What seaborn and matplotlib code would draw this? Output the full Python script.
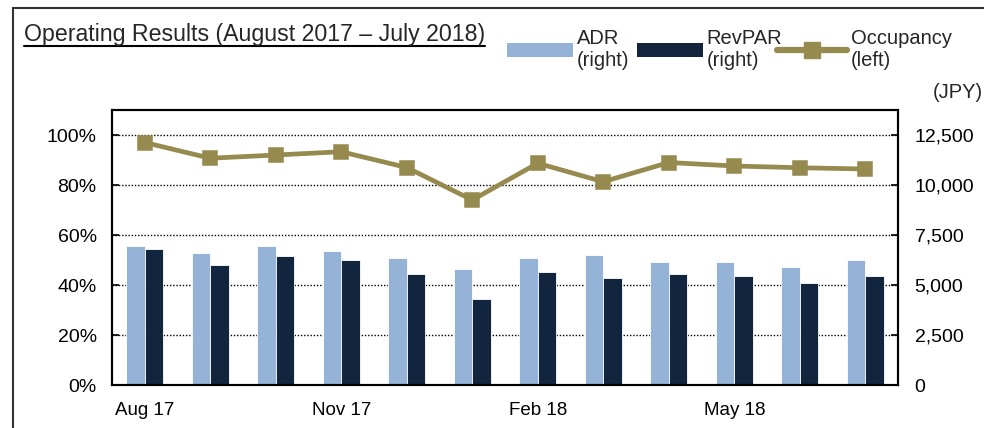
import matplotlib
matplotlib.use('Agg')
import numpy as np
import pandas as pd
import matplotlib.pyplot as plt
from matplotlib.patches import Rectangle, Patch
from matplotlib.lines import Line2D
from matplotlib.ticker import FuncFormatter
import seaborn as sns

# data
months = ['Aug 17', 'Sep 17', 'Oct 17', 'Nov 17', 'Dec 17', 'Jan 18',
          'Feb 18', 'Mar 18', 'Apr 18', 'May 18', 'Jun 18', 'Jul 18']
tick_labels = ['Aug 17', '', '', 'Nov 17', '', '', 'Feb 18', '', '', 'May 18', '', '']
adr = [6950, 6580, 6950, 6680, 6330, 5800, 6330, 6500, 6150, 6150, 5900, 6230]
revpar = [6780, 5980, 6430, 6230, 5530, 4300, 5630, 5350, 5530, 5450, 5080, 5450]
occupancy = [0.970, 0.907, 0.920, 0.933, 0.870, 0.740, 0.887, 0.813, 0.890, 0.876, 0.869, 0.864]
legend_labels = ['ADR\n(right)', 'RevPAR\n(right)', 'Occupancy\n(left)']

ADR_C = '#95B3D7'
REV_C = '#11253F'
OCC_C = '#968A4E'
FS = 14
LEG_FS = 14.5

sns.set_theme(style='white')
plt.rcParams['font.family'] = ['Liberation Sans', 'DejaVu Sans']

fig = plt.figure(figsize=(9.84, 4.28), dpi=100)
W, H = 984, 428
ax = fig.add_axes([112 / W, 1 - 385 / H, (898 - 112) / W, (385 - 110) / H])

df = pd.DataFrame({
    'month': months * 2,
    'value': adr + revpar,
    'series': ['ADR'] * len(months) + ['RevPAR'] * len(months),
})
sns.barplot(data=df, x='month', y='value', hue='series', order=months,
            palette=[ADR_C, REV_C], width=0.57, saturation=1, errorbar=None,
            edgecolor='white', linewidth=0.6, legend=False, ax=ax)

ax2 = ax.twinx()
sns.pointplot(x=months, y=occupancy, order=months, color=OCC_C, markers='s',
              markersize=9, linewidth=3.4, errorbar=None, ax=ax2)

# right axis (JPY) for bars, left axis (%) for occupancy
ax.yaxis.tick_right()
ax2.yaxis.tick_left()
ax.set_ylim(0, 13750)
ax.set_yticks(np.arange(0, 12501, 2500))
ax.yaxis.set_major_formatter(FuncFormatter(lambda v, p: f'{int(v):,}'))
ax2.set_ylim(0, 1.1)
ax2.set_yticks(np.arange(0, 1.01, 0.2))
ax2.yaxis.set_major_formatter(FuncFormatter(lambda v, p: f'{v * 100:.0f}%'))

ax.set_xlim(-0.5, len(months) - 0.5)
ax.set_xticks(range(len(months)))
ax.set_xticklabels(tick_labels)
for a in (ax, ax2):
    a.set_xlabel('')
    a.set_ylabel('')

ax.set_axisbelow(True)
ax.yaxis.grid(True, color='black', linestyle=(0, (1, 1.3)), linewidth=1)
ax.xaxis.grid(False)

ax.tick_params(axis='x', length=0, pad=12, labelsize=13.5, colors='black')
ax.tick_params(axis='y', direction='in', length=5, width=1.2, pad=12,
               labelsize=FS, colors='black', right=True, left=False)
ax2.tick_params(axis='y', direction='in', length=5, width=1.2, pad=11,
                labelsize=FS, colors='black', left=True, right=False)
for a in (ax, ax2):
    for s in a.spines.values():
        s.set_color('black')
        s.set_linewidth(1.5)
        s.set_visible(True)

# legend: one entry per small legend so each sits where the reference has it
handles = [Patch(facecolor=ADR_C, edgecolor='none'),
           Patch(facecolor=REV_C, edgecolor='none'),
           Line2D([], [], color=OCC_C, linewidth=4.5, marker='s', markersize=11,
                  solid_capstyle='round')]
legend_x = [507, 637, 777]
handle_len = [3.3, 3.3, 3.5]
for h, lab, lx, hl in zip(handles, legend_labels, legend_x, handle_len):
    leg = fig.legend([h], [lab], loc='upper left', bbox_to_anchor=(lx / W, 1 - 29 / H),
                     frameon=False, fontsize=LEG_FS, handlelength=hl,
                     handleheight=0.65, handletextpad=0.15, borderaxespad=0,
                     borderpad=0)

fig.text(983 / W, 1 - 93 / H, '(JPY)', ha='right', va='center', fontsize=LEG_FS)

title = fig.text(24 / W, 1 - 41 / H, 'Operating Results (August 2017 \u2013 July 2018)',
                 ha='left', va='baseline', fontsize=16.7)
fig.canvas.draw()
bb = title.get_window_extent().transformed(fig.transFigure.inverted())
fig.add_artist(Line2D([bb.x0, bb.x1], [1 - 46 / H, 1 - 46 / H], color='black', linewidth=1.5))

# outer frame of the panel
fig.add_artist(Rectangle((13 / W, -0.1), 1.2, 1 - 8 / H + 0.1, fill=False,
                         edgecolor='#333333', linewidth=1.5, clip_on=False))

fig.savefig('out.png', dpi=100)
